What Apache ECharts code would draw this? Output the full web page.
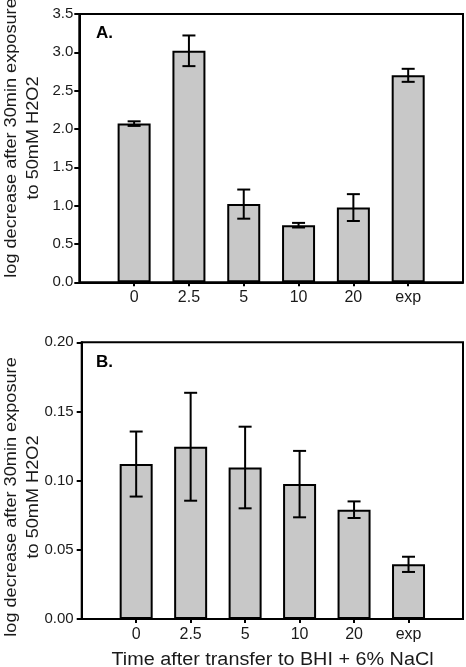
<!DOCTYPE html>
<html>
<head>
<meta charset="utf-8">
<script src="https://cdn.jsdelivr.net/npm/echarts@6/dist/echarts.min.js"></script>
<style>
html,body{margin:0;padding:0;background:#fff;}
#chart{width:466px;height:667px;}
</style>
</head>
<body>
<div id="chart"></div>
<script>
// ---- data ----
const categories = ['0', '2.5', '5', '10', '20', 'exp'];
const meansA = [2.07, 3.02, 1.02, 0.745, 0.975, 2.70];
const errorsA = [0.03, 0.20, 0.19, 0.03, 0.175, 0.085];
const meansB = [0.112, 0.1245, 0.1095, 0.0975, 0.079, 0.0395];
const errorsB = [0.0235, 0.039, 0.0295, 0.024, 0.006, 0.0055];
const yRangeA = [0, 3.5, 0.5];
const yRangeB = [0, 0.20, 0.05];
const panelLabels = ['A.', 'B.'];
const yTitleLines = ['log decrease after 30min exposure', 'to 50mM H2O2'];
const xTitle = 'Time after transfer to BHI + 6% NaCl';

// ---- chart ----
const FONT = '"Liberation Sans", Arial, Helvetica, sans-serif';
const TXT = '#1a1a1a';
const axisCats = [''].concat(categories, ['']);
const padData = arr => ['-'].concat(arr, ['-']);
const errData = (m, e) => m.map((v, i) => [i + 1, v, e[i]]);

function errRender(params, api) {
  const x = api.value(0), m = api.value(1), e = api.value(2);
  const t = api.coord([x, m + e]);
  const b = api.coord([x, m - e]);
  const hw = 6.5;
  const st = { stroke: '#000', lineWidth: 2 };
  return {
    type: 'group',
    children: [
      { type: 'line', shape: { x1: t[0], y1: t[1], x2: b[0], y2: b[1] }, style: st },
      { type: 'line', shape: { x1: t[0] - hw, y1: t[1], x2: t[0] + hw, y2: t[1] }, style: st },
      { type: 'line', shape: { x1: b[0] - hw, y1: b[1], x2: b[0] + hw, y2: b[1] }, style: st }
    ]
  };
}

function xAx(gi, margin) {
  return {
    type: 'category', gridIndex: gi, data: axisCats, boundaryGap: false,
    axisLine: { lineStyle: { color: '#000', width: 2 } },
    axisTick: { length: 4, lineStyle: { color: '#000', width: 2 }, interval: (i, v) => v !== '' },
    axisLabel: { color: TXT, fontSize: 16, fontFamily: FONT, margin: margin, interval: 0 },
    splitLine: { show: false }
  };
}
function yAx(gi, r, dec, margin) {
  return {
    type: 'value', gridIndex: gi, min: r[0], max: r[1], interval: r[2],
    axisLine: { show: true, lineStyle: { color: '#000', width: 2 } },
    axisTick: { show: true, length: 5, lineStyle: { color: '#000', width: 2 } },
    axisLabel: { color: TXT, fontSize: 15, fontFamily: FONT, margin: margin, formatter: v => v.toFixed(dec) },
    splitLine: { show: false }
  };
}
function barSeries(gi, means) {
  return {
    type: 'bar', xAxisIndex: gi, yAxisIndex: gi, data: padData(means), barWidth: 33,
    itemStyle: { color: '#c8c8c8', borderColor: '#000', borderWidth: 2 },
    emphasis: { disabled: true }, animation: false
  };
}
function errSeries(gi, means, errs) {
  return {
    type: 'custom', xAxisIndex: gi, yAxisIndex: gi, data: errData(means, errs),
    encode: { x: 0, y: [1, 2] }, renderItem: errRender, z: 5, animation: false, silent: true
  };
}
function yTitle(cy) {
  return {
    type: 'text', x: 22.5, y: cy, rotation: Math.PI / 2, scaleX: 1.1,
    style: {
      text: yTitleLines.join('\n'), font: '16.5px ' + FONT, fill: TXT,
      align: 'center', verticalAlign: 'middle', textAlign: 'center', textVerticalAlign: 'middle',
      lineHeight: 21.5
    }
  };
}

const chart = echarts.init(document.getElementById('chart'), null, { renderer: 'canvas' });
chart.setOption({
  animation: false,
  grid: [
    { left: 79.3, top: 14, right: 2.7, height: 268.3, show: true, borderColor: '#000', borderWidth: 2, containLabel: false },
    { left: 81.7, top: 342.3, right: 2.7, height: 276.7, show: true, borderColor: '#000', borderWidth: 2, containLabel: false }
  ],
  xAxis: [xAx(0, 7), xAx(1, 8)],
  yAxis: [yAx(0, yRangeA, 1, 6), yAx(1, yRangeB, 2, 8)],
  series: [
    barSeries(0, meansA), errSeries(0, meansA, errorsA),
    barSeries(1, meansB), errSeries(1, meansB, errorsB)
  ],
  graphic: [
    { type: 'text', x: 96, y: 33, style: { text: panelLabels[0], font: 'bold 17px ' + FONT, fill: '#000', align: 'left', verticalAlign: 'middle', textAlign: 'left', textVerticalAlign: 'middle' } },
    { type: 'text', x: 96, y: 362, style: { text: panelLabels[1], font: 'bold 17px ' + FONT, fill: '#000', align: 'left', verticalAlign: 'middle', textAlign: 'left', textVerticalAlign: 'middle' } },
    yTitle(138),
    yTitle(497),
    { type: 'text', x: 272.5, y: 660, scaleX: 1.1, style: { text: xTitle, font: '18px ' + FONT, fill: TXT, align: 'center', verticalAlign: 'middle', textAlign: 'center', textVerticalAlign: 'middle' } }
  ]
});
</script>
</body>
</html>
